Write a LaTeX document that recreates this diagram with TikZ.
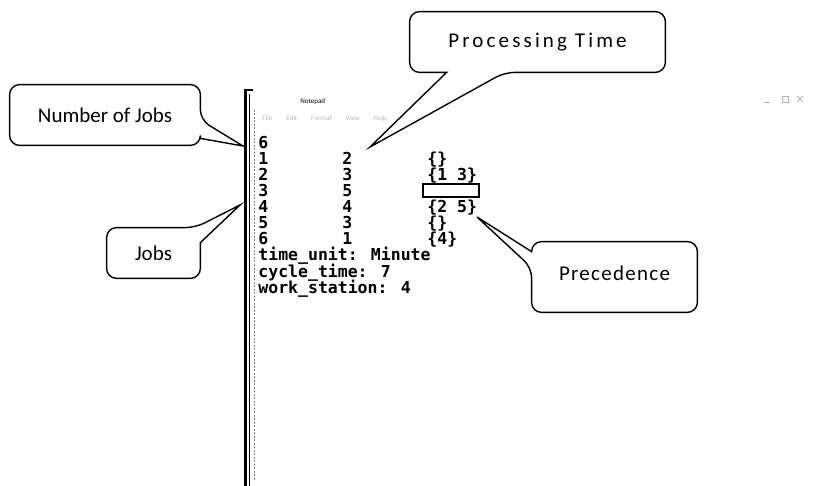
\documentclass[tikz,border=0pt]{standalone}
\usepackage{fontspec}
\newfontfamily\padfont{DejaVu Sans Mono}
\newfontfamily\notefont{Carlito}
\usetikzlibrary{calc}

\begin{document}
\begin{tikzpicture}[thick, x=1pt, y=-1pt,
  padtext/.style={anchor=base west, inner sep=0pt, font=\padfont\bfseries\fontsize{16.5}{16.5}\selectfont},
  note/.style={inner sep=0pt, font=\notefont\fontsize{21}{21}\selectfont},
  balloon/.style={line width=1.4pt, rounded corners=10pt}]
  \useasboundingbox (0,0) rectangle (840,486);

  % window edge of the editor
  \draw[line width=2.2pt] (253,90) -- (245.5,90) -- (245.5,486);
  \draw[line width=0.9pt] (249.5,94) -- (249.5,486);
  \draw[gray, line width=0.6pt, dash pattern=on 2pt off 1.5pt] (254.5,110) -- (254.5,480);
  \node[anchor=base west, inner sep=0pt, font=\notefont\fontsize{7}{7}\selectfont] (title) at (300,104) {Notepad};
  \node[anchor=base west, inner sep=0pt, text=gray!55, font=\notefont\fontsize{7}{7}\selectfont] (menu) at (262,121)
    {File\hspace{14pt}Edit\hspace{14pt}Format\hspace{14pt}View\hspace{14pt}Help};
  \draw[gray!60, line width=0.8pt] (764,102) -- (770,102);
  \draw[gray!60, line width=0.8pt] (782,96) rectangle (788,102);
  \draw[gray!60, line width=0.8pt] (797,96) -- (803,102) (797,102) -- (803,96);

  % file contents
  \node[padtext] (njobs) at (258,149) {6};
  \foreach \n/\t [count=\k] in {1/2, 2/3, 3/5, 4/4, 5/3, 6/1} {
    \node[padtext] (job\n) at (258,{149+16*\k}) {\n};
    \node[padtext] (time\n) at (342,{149+16*\k}) {\t};
  }
  \foreach \k/\p in {1/{\{\}}, 2/{\{1 3\}}, 4/{\{2 5\}}, 5/{\{\}}, 6/{\{4\}}}
    \node[padtext] (pred\k) at (427,{149+16*\k}) {\p};
  \node[draw, fill=white, line width=1.6pt, minimum width=56pt, minimum height=13pt, inner sep=0pt] (blank) at (451,190.5) {};
  \node[padtext] (unit) at (258,261) {time\_unit: Minute};
  \node[padtext] (cycle) at (258,277) {cycle\_time: 7};
  \node[padtext] (station) at (258,293) {work\_station: 4};

  % callouts
  \coordinate (njtip) at (243,146);
  \coordinate (jbtip) at (240,205);
  \coordinate (pttip) at (370,147);
  \coordinate (prtip) at (477,217);

  \node[note, minimum width=190pt, minimum height=60pt] (nj) at (105,115) {Number of Jobs};
  \draw[balloon] (nj.north west) -- (nj.north east) -- ($(nj.east)+(0,5)$) [sharp corners]
    -- (njtip) -- ($(nj.south east)+(0,-7)$) [rounded corners=10pt] -- (nj.south east) -- (nj.south west) -- cycle;

  \node[note, minimum width=93pt, minimum height=50pt] (jb) at (153.5,253) {Jobs};
  \draw[balloon] (jb.south west) -- (jb.north west) -- ($(jb.north east)+(-5,0)$) [sharp corners]
    -- (jbtip) -- ($(jb.north east)+(0,15)$) [rounded corners=10pt] -- (jb.south east) -- cycle;

  \node[note, minimum width=255pt, minimum height=60pt] (pt) at (537.5,42)
    {\addfontfeature{LetterSpace=15}Processing Time};
  \draw[balloon] (pt.north west) -- (pt.north east) -- (pt.south east) -- ($(pt.south west)+(95,0)$) [sharp corners]
    -- (pttip) -- ($(pt.south west)+(37,0)$) [rounded corners=10pt] -- (pt.south west) -- cycle;

  \node[note, minimum width=165pt, minimum height=70pt, text depth=8pt] (pr) at (614.5,277)
    {\addfontfeature{LetterSpace=6}Precedence};
  \draw[balloon] (pr.north east) -- (pr.south east) -- (pr.south west) -- ($(pr.north west)+(0,26)$) [sharp corners]
    -- (prtip) -- ($(pr.north west)+(0,10)$) [rounded corners=10pt] -- (pr.north west) -- cycle;
\end{tikzpicture}
\end{document}
